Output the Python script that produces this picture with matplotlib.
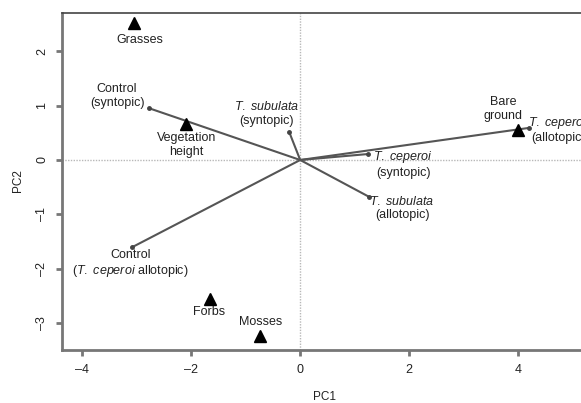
import matplotlib
matplotlib.use("Agg")
import matplotlib.pyplot as plt

plt.rcParams['font.family'] = ['Liberation Sans', 'DejaVu Sans']
plt.rcParams['mathtext.fontset'] = 'custom'
plt.rcParams['mathtext.rm'] = 'Liberation Sans'
plt.rcParams['mathtext.it'] = 'Liberation Sans:italic'

# Environmental variables (triangles)
env_names = ["Grasses", "Vegetation\nheight", "Bare\nground", "Forbs", "Mosses"]
env_x = [-3.05, -2.09, 4.00, -1.65, -0.73]
env_y = [2.52, 0.66, 0.55, -2.55, -3.23]
env_lab_x = [-2.95, -2.09, 3.72, -1.67, -0.73]
env_lab_y = [2.21, 0.28, 0.94, -2.79, -2.98]

# Treatment vectors (lines from origin)
vec_names = ["Control\n(syntopic)",
             r"$\it{T.\ subulata}$" + "\n(syntopic)",
             r"$\it{T.\ ceperoi}$" + "\n(syntopic)",
             r"$\it{T.\ ceperoi}$" + "\n(allotopic)",
             r"$\it{T.\ subulata}$" + "\n(allotopic)",
             "Control\n(" + r"$\it{T.\ ceperoi}$" + " allotopic)"]
vec_x = [-2.77, -0.20, 1.25, 4.20, 1.27, -3.08]
vec_y = [0.95, 0.51, 0.11, 0.59, -0.68, -1.60]
vec_lab_x = [-3.36, -0.62, 1.89, 4.73, 1.87, -3.12]
vec_lab_y = [1.18, 0.85, -0.07, 0.56, -0.88, -1.91]

xticks = [-4, -2, 0, 2, 4]
yticks = [-3, -2, -1, 0, 1, 2]

fig = plt.figure(figsize=(5.81, 4.03), dpi=100)
L, R, T, B = 62, 588, 13, 350
W, H = 581, 403
ax = fig.add_axes([L / W, 1 - B / H, (R - L) / W, (B - T) / H])
ax.set_xlim(-4.37, 5.28)
ax.set_ylim(-3.49, 2.70)

ax.axhline(0, color='#b8b8b8', lw=1, ls=(0, (1, 1)), zorder=1)
ax.axvline(0, color='#b8b8b8', lw=1, ls=(0, (1, 1)), zorder=1)

for x, y in zip(vec_x, vec_y):
    ax.plot([0, x], [0, y], color='#555555', lw=1.5, zorder=2, solid_capstyle='round')
ax.plot(vec_x, vec_y, 'o', color='#444444', ms=2.5, zorder=3, ls='none')

ax.plot(env_x, env_y, '^', color='black', ms=8, ls='none', zorder=4)

for n, x, y in zip(env_names, env_lab_x, env_lab_y):
    ax.text(x, y, n, ha='center', va='center', fontsize=9, color='#222222',
            linespacing=1.2)
for n, x, y in zip(vec_names, vec_lab_x, vec_lab_y):
    ax.text(x, y, n, ha='center', va='center', fontsize=9, color='#222222',
            linespacing=1.2)

ax.set_xticks(xticks)
ax.set_yticks(yticks)
ax.set_xticklabels([str(t).replace('-', '\u2013') for t in xticks])
ax.set_yticklabels([str(t).replace('-', '\u2013') for t in yticks],
                   rotation=90, va='center')
ax.tick_params(direction='out', length=4, width=2, color='#777777',
               labelsize=9, labelcolor='#222222', pad=6)

ax.spines['right'].set_visible(False)
ax.spines['left'].set_color('#777777')
ax.spines['left'].set_linewidth(2)
ax.spines['bottom'].set_color('#777777')
ax.spines['bottom'].set_linewidth(2)
ax.spines['top'].set_color('#444444')
ax.spines['top'].set_linewidth(1.2)

fig.text(325 / W, 1 - 397 / H, "PC1", ha='center', va='center', fontsize=8.5,
         color='#222222')
fig.text(18 / W, 1 - 181 / H, "PC2", ha='center', va='center', fontsize=8.5,
         rotation=90, color='#222222')

fig.savefig("out.png", dpi=100)
